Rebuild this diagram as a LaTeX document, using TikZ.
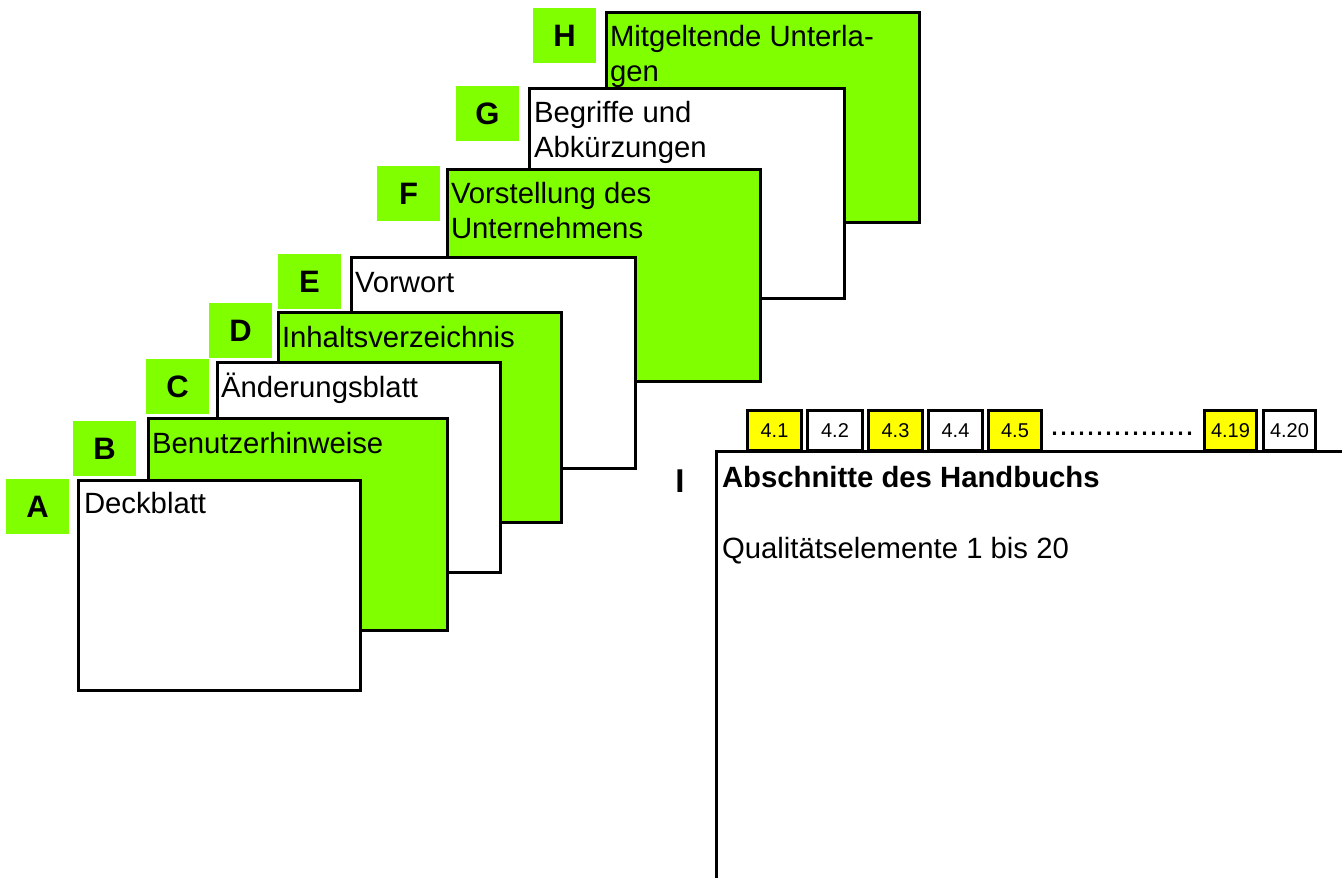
\documentclass[tikz,border=0pt]{standalone}
\usepackage{fontspec}
\setmainfont{Liberation Sans}
\definecolor{lgreen}{HTML}{80FF00}
\definecolor{tabyellow}{HTML}{FFFF00}
\begin{document}
\begin{tikzpicture}[x=1pt,y=-1pt,
  every node/.style={inner sep=0pt, outer sep=0pt},
  sheet/.style={draw=black, line width=3pt, anchor=north west},
  greensheet/.style={sheet, fill=lgreen},
  whitesheet/.style={sheet, fill=white},
  tag/.style={fill=lgreen, anchor=north west, minimum width=63pt, minimum height=55pt, font=\fontsize{31}{31}\bfseries},
  lbl/.style={anchor=base west, font=\fontsize{29.3}{35}\selectfont},
  boldlbl/.style={anchor=base west, font=\fontsize{29.3}{35}\bfseries},
  tab/.style={draw=black, line width=3pt, anchor=north west, minimum height=40pt, font=\fontsize{20}{20}\selectfont},
  yellowtab/.style={tab, fill=tabyellow},
  whitetab/.style={tab, fill=white},
]
\useasboundingbox (0,0) rectangle (1342,878);

% tags
\node[tag] (tagA) at (6,479) {A};
\node[tag] (tagB) at (73,421) {B};
\node[tag] (tagC) at (146,359) {C};
\node[tag] (tagD) at (209,303) {D};
\node[tag] (tagE) at (278,254) {E};
\node[tag] (tagF) at (377,166) {F};
\node[tag] (tagG) at (456,86) {G};
\node[tag] (tagH) at (533,8) {H};

% sheets, back to front
\node[greensheet, minimum width=313pt, minimum height=210pt] (sheetH) at (606.5,12.5) {};
\node[lbl] (tH1) at (610,46) {Mitgeltende Unterla-};
\node[lbl] (tH2) at (610,81) {gen};

\node[whitesheet, minimum width=315pt, minimum height=210pt] (sheetG) at (529.5,88.5) {};
\node[lbl] (tG1) at (534,122) {Begriffe und};
\node[lbl] (tG2) at (534,157) {Abkürzungen};

\node[greensheet, minimum width=313pt, minimum height=212pt] (sheetF) at (447.5,169.5) {};
\node[lbl] (tF1) at (451,203) {Vorstellung des};
\node[lbl] (tF2) at (451,238) {Unternehmens};

\node[whitesheet, minimum width=284pt, minimum height=211pt] (sheetE) at (351.5,257.5) {};
\node[lbl] (tE) at (355,292) {Vorwort};

\node[greensheet, minimum width=283pt, minimum height=210pt] (sheetD) at (278.5,312.5) {};
\node[lbl] (tD) at (282,347) {Inhaltsverzeichnis};

\node[whitesheet, minimum width=283pt, minimum height=210pt] (sheetC) at (217.5,362.5) {};
\node[lbl] (tC) at (221,397) {Änderungsblatt};

\node[greensheet, minimum width=299pt, minimum height=212pt] (sheetB) at (148.5,418.5) {};
\node[lbl] (tB) at (152,453) {Benutzerhinweise};

\node[whitesheet, minimum width=282pt, minimum height=210pt] (sheetA) at (78.5,480.5) {};
\node[lbl] (tA) at (84,513) {Deckblatt};

% section I
\node[sheet, minimum width=700pt, minimum height=500pt] (secI) at (716.5,451.5) {};
\node[anchor=base, font=\fontsize{33}{33}\bfseries] (tagI) at (680,492) {I};
\node[boldlbl] (tI1) at (722,487) {Abschnitte des Handbuchs};
\node[lbl] (tI2) at (722,558) {Qualitätselemente 1 bis 20};

% tabs
\node[yellowtab, minimum width=54pt] (t41) at (747.5,410.5) {4.1};
\node[whitetab, minimum width=55pt] (t42) at (807.5,410.5) {4.2};
\node[yellowtab, minimum width=54pt] (t43) at (868.5,410.5) {4.3};
\node[whitetab, minimum width=54pt] (t44) at (928.5,410.5) {4.4};
\node[yellowtab, minimum width=53pt] (t45) at (988.5,410.5) {4.5};
\node[anchor=base west, font=\fontsize{32.4}{33}\selectfont] (dots) at (1050,435.5) {................};
\node[yellowtab, minimum width=52pt] (t419) at (1204.5,410.5) {4.19};
\node[whitetab, minimum width=52pt] (t420) at (1263.5,410.5) {4.20};
\end{tikzpicture}
\end{document}
